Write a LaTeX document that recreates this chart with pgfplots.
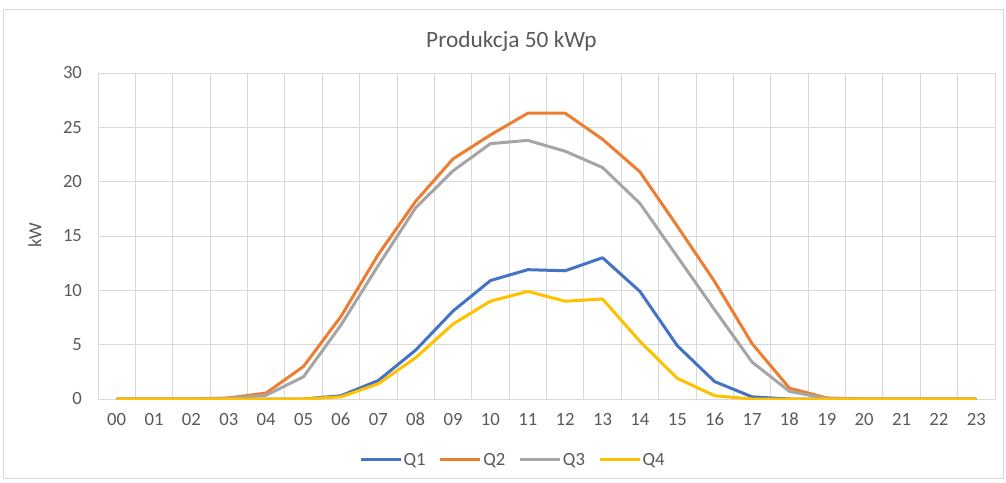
\documentclass[border=0pt]{standalone}
\usepackage{pgfplots}
\pgfplotsset{compat=1.18}
\usepackage{pgfplotstable}
\usepackage{fontspec}
\setmainfont{Carlito}
\definecolor{cQ1}{HTML}{4472C4}
\definecolor{cQ2}{HTML}{ED7D31}
\definecolor{cQ3}{HTML}{A5A5A5}
\definecolor{cQ4}{HTML}{FFC000}
\definecolor{txt}{HTML}{595959}
\definecolor{grd}{HTML}{D9D9D9}
\pgfplotstableread{
h Q1 Q2 Q3 Q4
0 0 0 0 0
1 0 0 0 0
2 0 0 0 0
3 0 0.1 0.05 0
4 0 0.55 0.35 0
5 0 3.0 2.05 0
6 0.3 7.6 6.8 0.2
7 1.7 13.3 12.3 1.4
8 4.5 18.2 17.6 3.8
9 8.1 22.1 21.0 6.9
10 10.9 24.3 23.5 9.0
11 11.9 26.3 23.8 9.9
12 11.8 26.3 22.8 9.0
13 13.0 23.9 21.3 9.2
14 9.9 20.9 18.0 5.3
15 4.9 15.9 13.1 1.9
16 1.6 10.8 8.2 0.3
17 0.2 5.1 3.4 0
18 0 1.0 0.7 0
19 0 0.1 0.05 0
20 0 0 0 0
21 0 0 0 0
22 0 0 0 0
23 0 0 0 0
}\data
\begin{document}
\begin{tikzpicture}
\path[use as bounding box] (0pt,0pt) rectangle (754.5pt,361.5pt);
\draw[grd, line width=0.75pt] (2.25pt,3pt) rectangle (752.25pt,354pt);
\node[text=txt, font=\fontsize{17.5pt}{20pt}\selectfont] at (383.6pt,330.5pt) {Produkcja 50 kWp};
\node[text=txt, font=\fontsize{14pt}{16pt}\selectfont, rotate=90] at (26.25pt,185.25pt) {kW};
\begin{axis}[
  at={(73.5pt,62.25pt)}, anchor=south west,
  width=672.75pt, height=244.5pt, scale only axis,
  xmin=-0.5, xmax=23.5, ymin=0, ymax=30,
  xtick={0,...,23},
  xticklabels={00,01,02,03,04,05,06,07,08,09,10,11,12,13,14,15,16,17,18,19,20,21,22,23},
  minor xtick={-0.5,0.5,...,23.5},
  ytick={0,5,...,30},
  xmajorgrids=false, xminorgrids=true, ymajorgrids=true,
  grid style={grd, line width=0.75pt},
  minor grid style={grd, line width=0.75pt},
  axis line style={grd, line width=0.75pt},
  major tick length=0pt, minor tick length=0pt,
  tick style={draw=none},
  ticklabel style={text=txt, font=\fontsize{14pt}{16pt}\selectfont},
  yticklabel style={xshift=-8.5pt},
  xticklabel style={yshift=-7pt},
  /pgf/number format/assume math mode=true,
  legend columns=4,
  legend style={at={(0.463,-0.187)}, anchor=center, draw=none, fill=none,
    font=\fontsize{14pt}{16pt}\selectfont, text=txt, inner sep=0pt,
    /tikz/every even column/.append style={column sep=8pt},
    /tikz/every odd column/.append style={column sep=-1pt}},
  legend image code/.code={\draw[#1, line width=2.25pt] (0pt,0pt) -- (30pt,0pt);},
  every axis plot/.append style={line width=2.25pt, line join=round, mark=none},
]
\addplot[cQ1] table[x=h,y=Q1] {\data};
\addplot[cQ2] table[x=h,y=Q2] {\data};
\addplot[cQ3] table[x=h,y=Q3] {\data};
\addplot[cQ4] table[x=h,y=Q4] {\data};
\legend{Q1,Q2,Q3,Q4}
\end{axis}
\end{tikzpicture}
\end{document}
